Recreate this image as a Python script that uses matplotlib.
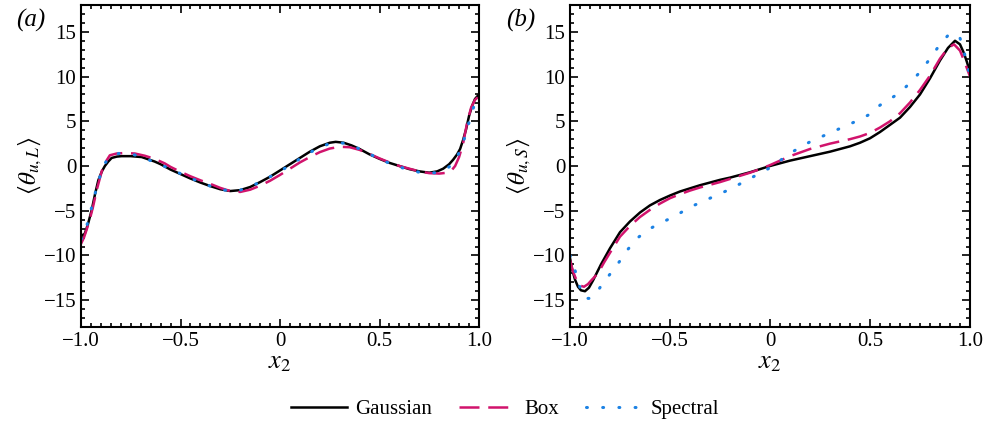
import numpy as np
import matplotlib
matplotlib.use("Agg")
import matplotlib.pyplot as plt
from matplotlib.ticker import FixedLocator, FixedFormatter, MultipleLocator

plt.rcParams['font.family'] = ['Liberation Serif', 'DejaVu Serif']
plt.rcParams['mathtext.fontset'] = 'stix'

# panel (a): <theta_{u,L}>
xa_gauss = [-1.0, -0.99, -0.98, -0.965, -0.946, -0.93, -0.913, -0.895, -0.88, -0.863, -0.846, -0.82, -0.796,
            -0.75, -0.695, -0.63, -0.60, -0.55, -0.50, -0.45, -0.40, -0.35, -0.30, -0.25, -0.20, -0.15,
            -0.10, -0.05, 0.0, 0.05, 0.10, 0.15, 0.20, 0.25, 0.28, 0.32, 0.36, 0.40, 0.45, 0.50, 0.55,
            0.60, 0.65, 0.70, 0.75, 0.79, 0.82, 0.85, 0.87, 0.89, 0.905, 0.92, 0.935, 0.95, 0.965,
            0.98, 1.0]
ya_gauss = [-7.6, -7.8, -7.5, -6.5, -4.9, -3.2, -1.6, -0.6, 0.0, 0.5, 0.9, 1.05, 1.1,
            1.1, 1.0, 0.5, 0.2, -0.4, -0.9, -1.4, -1.85, -2.25, -2.6, -2.8, -2.7, -2.35,
            -1.8, -1.2, -0.5, 0.2, 0.9, 1.6, 2.2, 2.6, 2.7, 2.6, 2.3, 1.9, 1.3, 0.8, 0.35,
            0.0, -0.35, -0.6, -0.75, -0.6, -0.3, 0.2, 0.7, 1.3, 1.9, 2.9, 4.1, 5.6, 6.7,
            7.5, 8.0]

xa_box = [-1.0, -0.985, -0.97, -0.955, -0.94, -0.92, -0.896, -0.875, -0.855, -0.82, -0.78, -0.73, -0.68,
          -0.63, -0.58, -0.55, -0.50, -0.45, -0.40, -0.35, -0.30, -0.25, -0.20, -0.15, -0.10, -0.05,
          0.0, 0.05, 0.10, 0.15, 0.20, 0.25, 0.30, 0.35, 0.40, 0.45, 0.50, 0.55, 0.60, 0.65, 0.70,
          0.75, 0.80, 0.84, 0.86, 0.88, 0.90, 0.92, 0.94, 0.96, 0.98, 1.0]
ya_box = [-8.7, -8.0, -7.0, -5.9, -4.6, -2.6, -0.6, 0.5, 1.2, 1.4, 1.45, 1.4, 1.15,
          0.8, 0.3, -0.1, -0.65, -1.15, -1.6, -2.0, -2.45, -2.8, -2.9, -2.65, -2.2, -1.65,
          -1.0, -0.3, 0.4, 1.0, 1.55, 1.95, 2.15, 2.1, 1.8, 1.35, 0.85, 0.4, 0.0, -0.3, -0.6,
          -0.8, -0.85, -0.75, -0.55, 0.0, 1.0, 2.5, 4.8, 6.5, 7.4, 7.8]

xa_spec = [-1.0, -0.985, -0.97, -0.955, -0.94, -0.92, -0.90, -0.88, -0.86, -0.84, -0.81, -0.78, -0.74,
           -0.70, -0.65, -0.60, -0.55, -0.50, -0.45, -0.40, -0.35, -0.30, -0.25, -0.20, -0.15, -0.10,
           -0.05, 0.0, 0.05, 0.10, 0.15, 0.20, 0.25, 0.28, 0.32, 0.36, 0.40, 0.45, 0.50, 0.55, 0.60,
           0.65, 0.70, 0.74, 0.78, 0.82, 0.85, 0.87, 0.89, 0.91, 0.93, 0.95, 0.97, 0.99, 1.0]
ya_spec = [-8.2, -7.6, -6.6, -5.4, -4.0, -2.3, -0.8, 0.3, 0.9, 1.25, 1.4, 1.4, 1.3,
           1.05, 0.6, 0.15, -0.35, -0.85, -1.35, -1.8, -2.25, -2.6, -2.8, -2.7, -2.3, -1.8,
           -1.2, -0.6, 0.1, 0.8, 1.5, 2.1, 2.5, 2.6, 2.55, 2.3, 1.9, 1.35, 0.8, 0.3, -0.1,
           -0.45, -0.7, -0.8, -0.75, -0.5, -0.1, 0.4, 1.0, 2.0, 3.3, 4.9, 6.4, 7.5, 7.9]

# panel (b): <theta_{u,S}>
xb_gauss = [-1.0, -0.99, -0.975, -0.96, -0.945, -0.925, -0.905, -0.885, -0.865, -0.845, -0.825, -0.80,
            -0.75, -0.70, -0.65, -0.60, -0.55, -0.50, -0.45, -0.40, -0.35, -0.30, -0.25, -0.20, -0.15,
            -0.10, -0.05, 0.0, 0.05, 0.10, 0.15, 0.20, 0.25, 0.30, 0.35, 0.40, 0.45, 0.50, 0.55, 0.60,
            0.65, 0.70, 0.75, 0.80, 0.85, 0.89, 0.925, 0.95, 0.97, 0.985, 1.0]
yb_gauss = [-10.3, -11.5, -12.7, -13.5, -13.9, -14.0, -13.6, -12.8, -11.9, -11.0, -10.2, -9.2,
            -7.4, -6.2, -5.2, -4.4, -3.8, -3.3, -2.85, -2.5, -2.15, -1.85, -1.55, -1.3, -1.0,
            -0.7, -0.35, 0.0, 0.3, 0.6, 0.85, 1.1, 1.35, 1.6, 1.9, 2.2, 2.6, 3.1, 3.8, 4.6,
            5.4, 6.6, 8.0, 9.8, 11.8, 13.2, 14.0, 13.6, 12.6, 11.6, 10.5]

xb_box = [-1.0, -0.985, -0.965, -0.945, -0.93, -0.91, -0.89, -0.86, -0.83, -0.80, -0.75, -0.70,
          -0.65, -0.60, -0.55, -0.50, -0.45, -0.40, -0.35, -0.30, -0.25, -0.20, -0.15, -0.10, -0.05,
          0.0, 0.05, 0.10, 0.15, 0.20, 0.25, 0.30, 0.35, 0.40, 0.45, 0.50, 0.55, 0.60, 0.65, 0.70,
          0.75, 0.80, 0.85, 0.89, 0.92, 0.95, 0.97, 0.985, 1.0]
yb_box = [-10.5, -11.8, -12.9, -13.4, -13.5, -13.2, -12.7, -12.0, -10.8, -9.7, -7.9, -6.7,
          -5.7, -4.9, -4.2, -3.6, -3.15, -2.75, -2.4, -2.1, -1.8, -1.45, -1.1, -0.75, -0.35,
          0.1, 0.6, 1.1, 1.5, 1.9, 2.2, 2.5, 2.75, 3.0, 3.3, 3.7, 4.3, 5.0, 5.9, 7.1,
          8.5, 10.1, 12.0, 13.2, 13.6, 12.9, 11.8, 10.9, 10.0]

xb_spec = [-1.0, -0.985, -0.967, -0.95, -0.925, -0.90, -0.875, -0.835, -0.79, -0.75, -0.71, -0.66,
           -0.60, -0.54, -0.475, -0.40, -0.35, -0.30, -0.25, -0.20, -0.15, -0.10, -0.05, 0.0, 0.05,
           0.10, 0.15, 0.20, 0.25, 0.30, 0.35, 0.40, 0.45, 0.50, 0.55, 0.60, 0.65, 0.70, 0.75,
           0.80, 0.85, 0.89, 0.93, 0.95, 0.97, 0.985, 1.0]
yb_spec = [-10.0, -11.0, -12.2, -13.6, -14.8, -14.8, -14.4, -13.1, -11.8, -10.6, -9.3, -8.0,
           -7.0, -6.3, -5.6, -4.6, -4.1, -3.6, -3.1, -2.6, -2.0, -1.4, -0.8, -0.2, 0.6,
           1.4, 2.1, 2.7, 3.2, 3.7, 4.2, 4.7, 5.2, 5.8, 6.8, 7.5, 8.2, 9.3, 10.5,
           12.0, 13.6, 14.6, 14.8, 14.3, 12.8, 11.4, 10.0]

labels = ['Gaussian', 'Box', 'Spectral']
xticks = [-1.0, -0.5, 0.0, 0.5, 1.0]
xticklabels = ['\u22121.0', '\u22120.5', '0', '0.5', '1.0']
yticks = [-15, -10, -5, 0, 5, 10, 15]
yticklabels = ['\u221215', '\u221210', '\u22125', '0', '5', '10', '15']

black = 'black'
pink = '#d1136c'
blue = '#1c82e4'

fig = plt.figure(figsize=(9.9, 4.28), dpi=100)
ax1 = fig.add_axes([81/990, 101/428, 398/990, 322/428])
ax2 = fig.add_axes([570/990, 101/428, 400/990, 322/428])

lw = 1.8
box_dash = (8, 3.5)
spec_kw = dict(color=blue, lw=2.2, ls=(0, (0.3, 5)), dash_capstyle='round')

ax1.plot(xa_gauss, ya_gauss, color=black, lw=lw, label=labels[0])
ax1.plot(xa_box, ya_box, color=pink, lw=lw, dashes=box_dash, label=labels[1])
ax1.plot(xa_spec, ya_spec, label=labels[2], **spec_kw)

ax2.plot(xb_gauss, yb_gauss, color=black, lw=lw, label=labels[0])
ax2.plot(xb_box, yb_box, color=pink, lw=lw, dashes=box_dash, label=labels[1])
ax2.plot(xb_spec, yb_spec, label=labels[2], **spec_kw)

for ax, ylab, tag, tx in [(ax1, r'$\langle\theta_{u,L}\rangle$', '(a)', 16/990),
                          (ax2, r'$\langle\theta_{u,S}\rangle$', '(b)', 506/990)]:
    ax.set_xlim(-1, 1)
    ax.set_ylim(-18, 18)
    ax.xaxis.set_major_locator(FixedLocator(xticks))
    ax.xaxis.set_major_formatter(FixedFormatter(xticklabels))
    ax.yaxis.set_major_locator(FixedLocator(yticks))
    ax.yaxis.set_major_formatter(FixedFormatter(yticklabels))
    ax.xaxis.set_minor_locator(MultipleLocator(0.05))
    ax.yaxis.set_minor_locator(MultipleLocator(1))
    ax.tick_params(which='both', direction='in', top=True, right=True, labelsize=15, width=1.2)
    ax.tick_params(which='major', length=6)
    ax.tick_params(which='minor', length=3)
    for s in ax.spines.values():
        s.set_linewidth(1.5)
    ax.set_xlabel(r'$x_2$', fontsize=19, labelpad=1)
    ax.set_ylabel(ylab, fontsize=18, labelpad=0)
    fig.text(tx, 0.952, tag, fontsize=18, style='italic', ha='left', va='center')

fig.legend(*ax1.get_legend_handles_labels(), loc='center', bbox_to_anchor=(0.51, 0.044),
           ncol=3, frameon=False, fontsize=15, handlelength=2.7, handletextpad=0.4,
           columnspacing=1.3)

fig.savefig('out.png', dpi=100)
